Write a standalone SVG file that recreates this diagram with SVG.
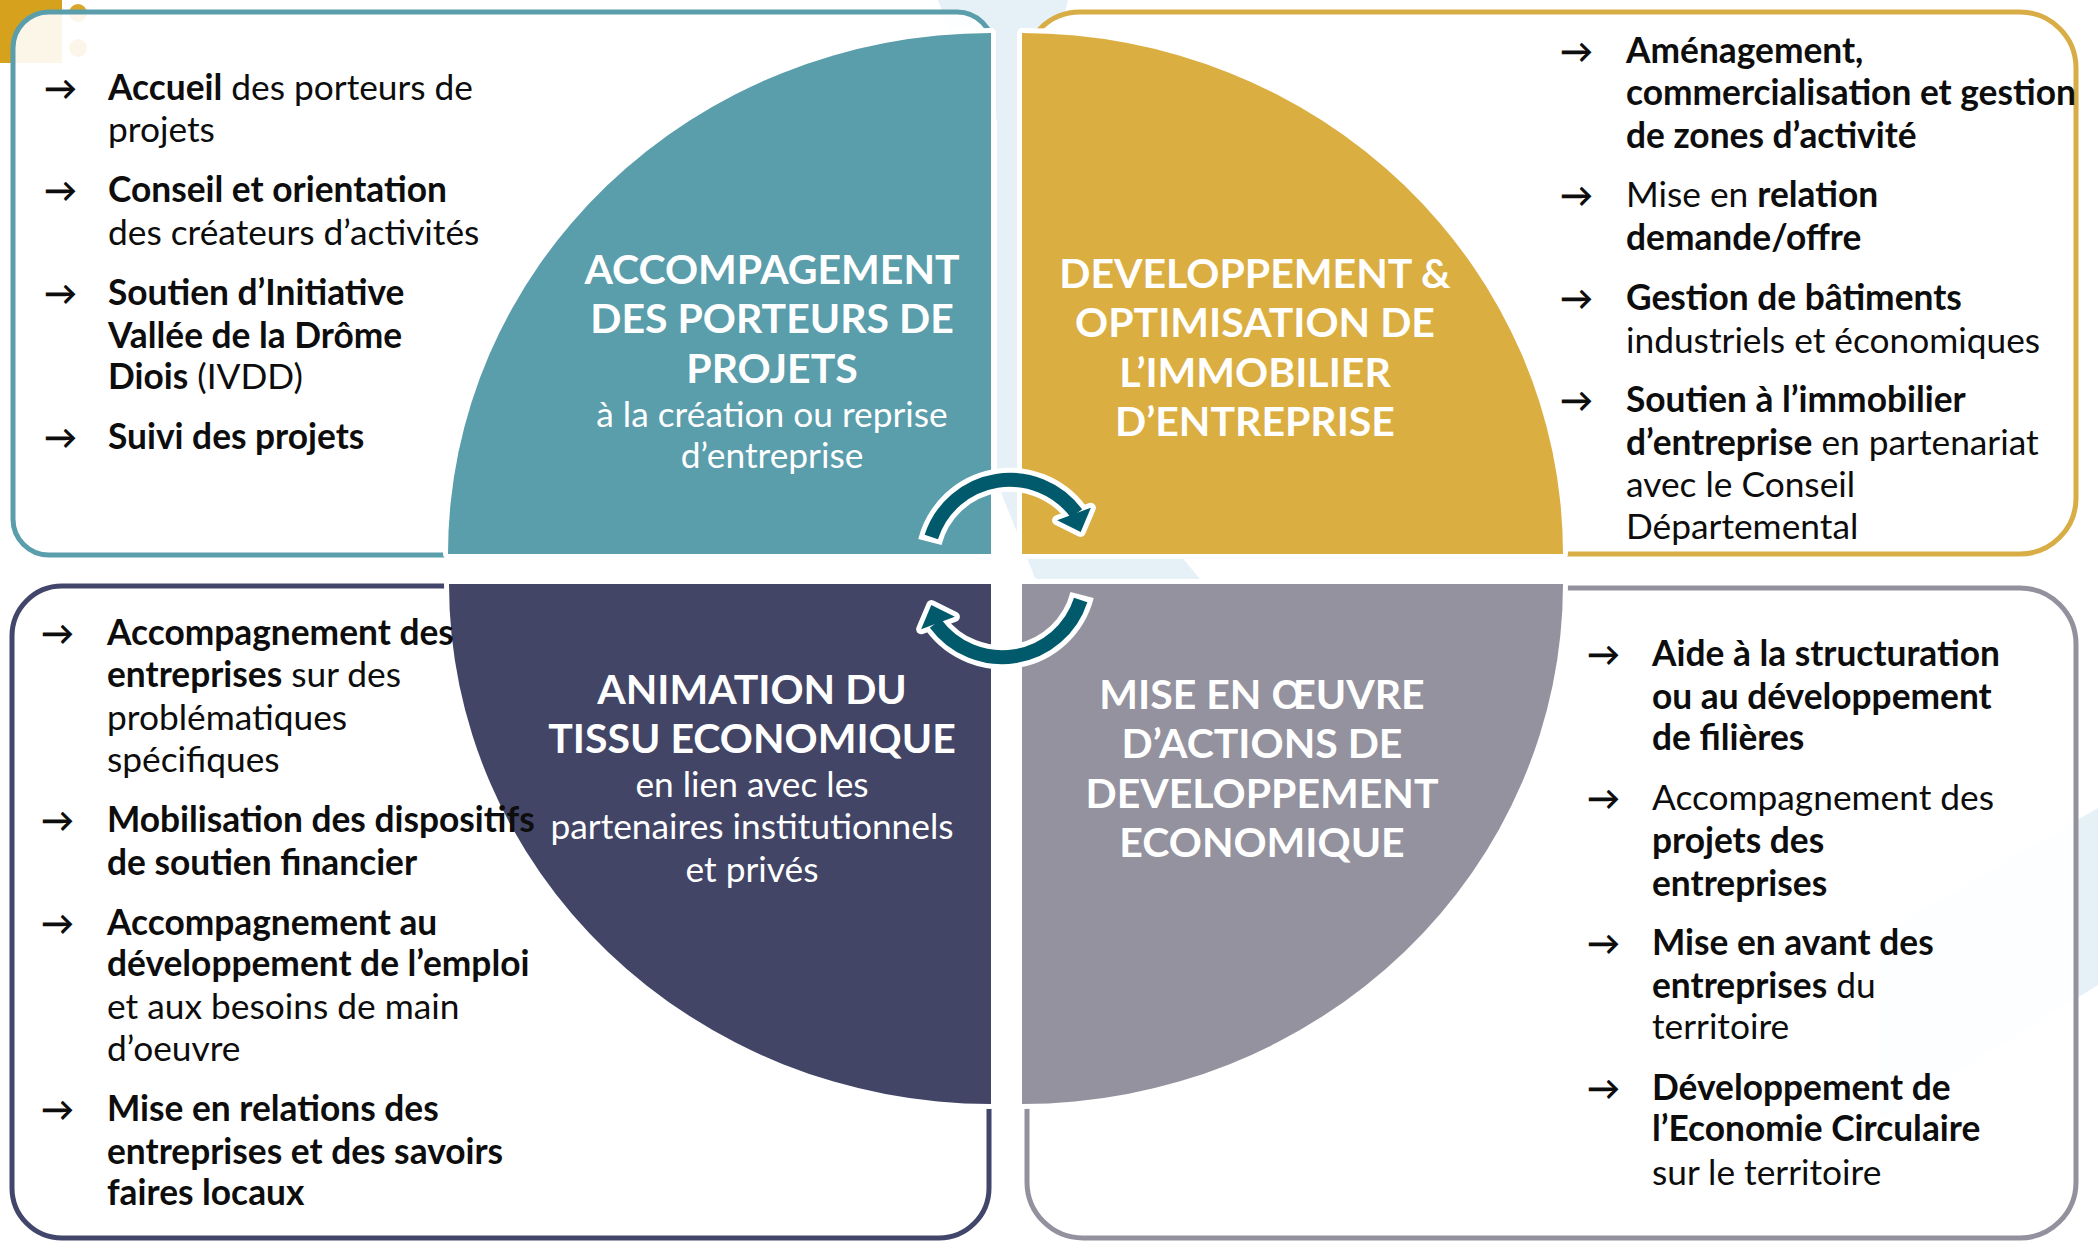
<svg xmlns="http://www.w3.org/2000/svg" width="2098" height="1243" viewBox="0 0 2098 1243">
<defs>
<style>
.box{fill:#fff;fill-opacity:0.9;stroke-width:5}
.q{stroke:#fff;stroke-width:10;stroke-linejoin:round;paint-order:stroke}
.t{font-family:Lato,"Noto Sans","DejaVu Sans",sans-serif;font-size:35.3px;fill:#0d0d0d}
.b{font-weight:700}
.ar{font-family:Lato,"DejaVu Sans",sans-serif;font-size:33px;font-weight:700;fill:#0d0d0d}
.h{font-family:Lato,"Noto Sans",sans-serif;font-weight:700;font-size:41px;fill:#fff;text-anchor:middle}
.s{font-family:Lato,"Noto Sans",sans-serif;font-size:35.3px;fill:#fff;text-anchor:middle}
.aw{fill:none;stroke:#fff;stroke-width:24}
.hw{fill:#fff;stroke:#fff;stroke-width:10;stroke-linejoin:round}
.ad{fill:none;stroke:#005a6c;stroke-width:14}
.hd{fill:#005a6c}
.bg{fill:#e6f0f7}
</style>
</defs>
<rect width="2098" height="1243" fill="#fff"/>
<g id="background">
<polygon class="bg" points="938,0 1068,0 1030,150 1022,555 1180,555 1205,585 1062,585 1035,578 997,482 997,120 960,60"/>
<polygon class="bg" points="2098,808 2098,985 1880,1120 1880,935"/>
<rect x="0" y="0" width="62" height="63" fill="#d6a11c"/>
<circle cx="78" cy="13" r="9" fill="#d9a62a"/>
<circle cx="78" cy="48" r="9" fill="#d9a62a"/>
</g>
<g id="box-accompagnement">
<rect class="box" x="13" y="12" width="980" height="543" rx="36" stroke="#5a9eac"/>
</g>
<g id="box-immobilier">
<rect class="box" x="1024" y="12" width="1052" height="542" rx="56" stroke="#d8ad45"/>
</g>
<g id="box-animation">
<rect class="box" x="12" y="586" width="977" height="652" rx="50" stroke="#41466a"/>
</g>
<g id="box-developpement">
<rect class="box" x="1027" y="588" width="1049" height="650" rx="56" stroke="#92919d"/>
</g>
<g id="quadrant-accompagnement">
<path class="q" fill="#5a9dab" d="M 991 554 V 33 A 543 521 0 0 0 448 554 Z"/>
<text class="h"><tspan x="772" y="284">ACCOMPAGEMENT</tspan><tspan x="772" y="333">DES PORTEURS DE</tspan><tspan x="772" y="383">PROJETS</tspan></text>
<text class="s"><tspan x="772" y="427">à la création ou reprise</tspan><tspan x="772" y="468">d’entreprise</tspan></text>
</g>
<g id="quadrant-immobilier">
<path class="q" fill="#dbae42" d="M 1022 554 V 33 A 541 521 0 0 1 1563 554 Z"/>
<text class="h"><tspan x="1255" y="288">DEVELOPPEMENT &amp;</tspan><tspan x="1255" y="337">OPTIMISATION DE</tspan><tspan x="1255" y="387">L’IMMOBILIER</tspan><tspan x="1255" y="436">D’ENTREPRISE</tspan></text>
</g>
<g id="quadrant-animation">
<path class="q" fill="#424566" d="M 991 584 H 449 A 542 520 0 0 0 991 1104 Z"/>
<text class="h"><tspan x="752" y="704">ANIMATION DU</tspan><tspan x="752" y="753">TISSU ECONOMIQUE</tspan></text>
<text class="s"><tspan x="752" y="797">en lien avec les</tspan><tspan x="752" y="839">partenaires institutionnels</tspan><tspan x="752" y="882">et privés</tspan></text>
</g>
<g id="quadrant-developpement">
<path class="q" fill="#93929e" d="M 1022 584 H 1563 A 541 520 0 0 1 1022 1104 Z"/>
<text class="h"><tspan x="1262" y="709">MISE EN ŒUVRE</tspan><tspan x="1262" y="758">D’ACTIONS DE</tspan><tspan x="1262" y="808">DEVELOPPEMENT</tspan><tspan x="1262" y="857">ECONOMIQUE</tspan></text>
</g>
<g id="connectors">
<g id="cycle-top">
<path class="aw" d="M 929.9 542 A 82.6 82.6 0 0 1 1076.5 513.5"/>
<polygon class="hw" points="1057.1,520.3 1090.9,507.7 1080.7,531.9"/>
<path class="ad" d="M 931.3 537 A 82.6 82.6 0 0 1 1076.5 513.5"/>
<polygon class="hd" points="1057.1,520.3 1090.9,507.7 1080.7,531.9"/>
</g>
<g id="cycle-bottom" transform="rotate(180 1006 568.5)">
<path class="aw" d="M 929.9 542 A 82.6 82.6 0 0 1 1076.5 513.5"/>
<polygon class="hw" points="1057.1,520.3 1090.9,507.7 1080.7,531.9"/>
<path class="ad" d="M 931.3 537 A 82.6 82.6 0 0 1 1076.5 513.5"/>
<polygon class="hd" points="1057.1,520.3 1090.9,507.7 1080.7,531.9"/>
</g>
</g>
<g id="list-accompagnement">
<text class="ar" x="44" y="100">→</text>
<text class="ar" x="44" y="202">→</text>
<text class="ar" x="44" y="305">→</text>
<text class="ar" x="44" y="449">→</text>
<text class="t"><tspan x="108" y="100"><tspan class="b">Accueil</tspan> des porteurs de</tspan><tspan x="108" y="142">projets</tspan></text>
<text class="t"><tspan x="108" y="202" class="b">Conseil et orientation</tspan><tspan x="108" y="245">des créateurs d’activités</tspan></text>
<text class="t"><tspan x="108" y="305" class="b">Soutien d’Initiative</tspan><tspan x="108" y="348" class="b">Vallée de la Drôme</tspan><tspan x="108" y="389"><tspan class="b">Diois</tspan> (IVDD)</tspan></text>
<text class="t"><tspan x="108" y="449" class="b">Suivi des projets</tspan></text>
</g>
<g id="list-immobilier">
<text class="ar" x="1560" y="63">→</text>
<text class="ar" x="1560" y="207">→</text>
<text class="ar" x="1560" y="310">→</text>
<text class="ar" x="1560" y="412">→</text>
<text class="t b"><tspan x="1626" y="63">Aménagement,</tspan><tspan x="1626" y="105">commercialisation et gestion</tspan><tspan x="1626" y="148">de zones d’activité</tspan></text>
<text class="t"><tspan x="1626" y="207">Mise en <tspan class="b">relation</tspan></tspan><tspan x="1626" y="250" class="b">demande/offre</tspan></text>
<text class="t"><tspan x="1626" y="310" class="b">Gestion de bâtiments</tspan><tspan x="1626" y="353">industriels et économiques</tspan></text>
<text class="t"><tspan x="1626" y="412" class="b">Soutien à l’immobilier</tspan><tspan x="1626" y="455"><tspan class="b">d’entreprise</tspan> en partenariat</tspan><tspan x="1626" y="497">avec le Conseil</tspan><tspan x="1626" y="539">Départemental</tspan></text>
</g>
<g id="list-animation">
<text class="ar" x="41" y="645">→</text>
<text class="ar" x="41" y="832">→</text>
<text class="ar" x="41" y="935">→</text>
<text class="ar" x="41" y="1121">→</text>
<text class="t"><tspan x="107" y="645" class="b">Accompagnement des</tspan><tspan x="107" y="687"><tspan class="b">entreprises</tspan> sur des</tspan><tspan x="107" y="730">problématiques</tspan><tspan x="107" y="772">spécifiques</tspan></text>
<text class="t b"><tspan x="107" y="832">Mobilisation des dispositifs</tspan><tspan x="107" y="875">de soutien financier</tspan></text>
<text class="t"><tspan x="107" y="935" class="b">Accompagnement au</tspan><tspan x="107" y="976" class="b">développement de l’emploi</tspan><tspan x="107" y="1019">et aux besoins de main</tspan><tspan x="107" y="1061">d’oeuvre</tspan></text>
<text class="t b"><tspan x="107" y="1121">Mise en relations des</tspan><tspan x="107" y="1164">entreprises et des savoirs</tspan><tspan x="107" y="1205">faires locaux</tspan></text>
</g>
<g id="list-developpement">
<text class="ar" x="1587" y="666">→</text>
<text class="ar" x="1587" y="810">→</text>
<text class="ar" x="1587" y="955">→</text>
<text class="ar" x="1587" y="1100">→</text>
<text class="t b"><tspan x="1652" y="666">Aide à la structuration</tspan><tspan x="1652" y="709">ou au développement</tspan><tspan x="1652" y="750">de filières</tspan></text>
<text class="t"><tspan x="1652" y="810">Accompagnement des</tspan><tspan x="1652" y="853" class="b">projets des</tspan><tspan x="1652" y="896" class="b">entreprises</tspan></text>
<text class="t"><tspan x="1652" y="955" class="b">Mise en avant des</tspan><tspan x="1652" y="998"><tspan class="b">entreprises</tspan> du</tspan><tspan x="1652" y="1039">territoire</tspan></text>
<text class="t"><tspan x="1652" y="1100" class="b">Développement de</tspan><tspan x="1652" y="1141" class="b">l’Economie Circulaire</tspan><tspan x="1652" y="1185">sur le territoire</tspan></text>
</g>
</svg>
